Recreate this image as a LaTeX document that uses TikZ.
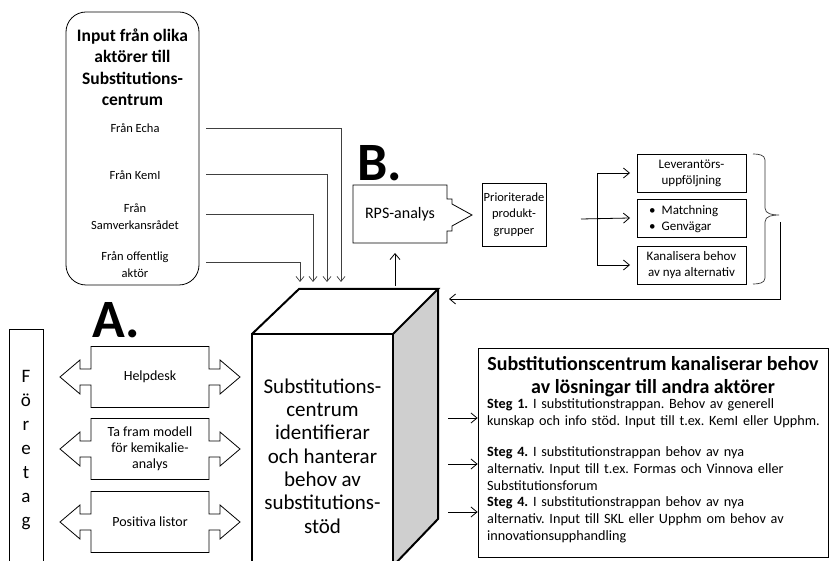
\documentclass[tikz,border=0pt]{standalone}
\usepackage{fontspec}
\setmainfont{Carlito}
\usetikzlibrary{arrows.meta,calc}
\frenchspacing
\begin{document}
\begin{tikzpicture}[x=1pt,y=-1pt,
  thinbox/.style={draw, line width=0.8pt},
  cubeline/.style={draw, line width=2pt, line join=miter},
  small/.style={align=center, font=\fontsize{14}{16}\selectfont, inner sep=0pt},
  frantxt/.style={align=center, font=\fontsize{12.5}{17}\selectfont, inner sep=0pt},
  stegtxt/.style={align=left, text width=360pt, font=\fontsize{14.2}{17}\selectfont, inner sep=0pt, anchor=west},
  boxtxt/.style={align=center, font=\fontsize{13}{16}\selectfont, inner sep=0pt},
  inline/.style={line width=0.7pt, draw=black!75, -{Straight Barb[length=5pt,width=8pt]}},
  conn/.style={line width=0.8pt, -{Straight Barb[length=6pt,width=10pt]}},
  bigletter/.style={font=\fontsize{54}{54}\bfseries\selectfont, inner sep=0pt}
]
\useasboundingbox (0,0) rectangle (831,561);
\clip (0,0) rectangle (831,561);

% ---------- Input box ----------
\node[thinbox, rounded corners=20pt, minimum width=133pt, minimum height=273pt, inner sep=0pt] (inbox) at (132.5,148.5) {};
\node[align=center, font=\fontsize{17.5}{21.5}\bfseries\selectfont, inner sep=0pt] (intitle) at (132.5,67) {Input från olika\\aktörer till\\Substitutions-\\centrum};
\node[frantxt] (echa) at (135,128) {Från Echa};
\node[frantxt] (keml) at (135,175) {Från KemI};
\node[frantxt] (samv) at (135,217) {Från\\Samverkansrådet};
\node[frantxt] (offa) at (135,265) {Från offentlig\\aktör};

\coordinate (s1) at (206,128);
\coordinate (s2) at (206,174);
\coordinate (s3) at (206,214);
\coordinate (s4) at (206,262);
\coordinate (t1) at (341,282);
\coordinate (t2) at (327,282);
\coordinate (t3) at (313,282);
\coordinate (t4) at (300,282);
\draw[inline] (s1) -| (t1);
\draw[inline] (s2) -| (t2);
\draw[inline] (s3) -| (t3);
\draw[inline] (s4) -| (t4);

% ---------- Cube ----------
\coordinate (fa) at (252,334);
\coordinate (fb) at (393,334);
\coordinate (ba) at (299,289);
\coordinate (bb) at (438,289);
\coordinate (sb) at (438,519);
\coordinate (fc) at (393,566);
\coordinate (fd) at (252,570);
\fill[gray!38] (fb) -- (bb) -- (sb) -- (fc) -- cycle;
\draw[cubeline] (fd) -- (fa) -- (fb) -- (fc);
\draw[cubeline] (fa) -- (ba) -- (bb) -- (fb);
\draw[cubeline] (bb) -- (sb) -- (fc);
\node[align=center, font=\fontsize{21}{23.3}\selectfont, inner sep=0pt] (cubetxt) at (322.5,456) {Substitutions-\\centrum\\identifierar\\och hanterar\\behov av\\substitutions-\\stöd};

% ---------- Företag ----------
\draw[thinbox] (9,575) |- (43,329) -- (43,575);
\node[align=center, font=\fontsize{19}{24}\selectfont, inner sep=0pt] (foretag) at (26,450) {F\\ö\\r\\e\\t\\a\\g};

% ---------- A. and B. ----------
\node[bigletter] (Alabel) at (116,320) {A.};
\node[bigletter] (Blabel) at (380,163) {B.};

% ---------- Left double callouts ----------
\foreach \cy/\nm/\txt in {377/help/Helpdesk, 449/model/{Ta fram modell\\för kemikalie-\\analys}, 522/pos/Positiva listor}{
  \begin{scope}[shift={(150,\cy)}]
    \draw[thinbox, line join=miter] (-59,-30.5) -- (59,-30.5) -- (59,-8) -- (70,-8) -- (70,-17) -- (90,0) -- (70,17) -- (70,8) -- (59,8) -- (59,30.5) -- (-59,30.5) -- (-59,8) -- (-70,8) -- (-70,17) -- (-90,0) -- (-70,-17) -- (-70,-8) -- (-59,-8) -- cycle;
    \node[small] (\nm) at (0,0) {\txt};
  \end{scope}
}

% ---------- B section ----------
\draw[thinbox, line join=miter] (353,185) -- (447,185) -- (447,199) -- (452,199) -- (452,204) -- (472,215) -- (452,226) -- (452,231) -- (447,231) -- (447,243) -- (353,243) -- cycle;
\node[align=center, font=\fontsize{16}{18}\selectfont, inner sep=0pt] (rps) at (400,214) {RPS-analys};
\coordinate (upstart) at (395,286);
\coordinate (upend) at (395,253);
\draw[conn] (upstart) -- (upend);

\node[thinbox, minimum width=64pt, minimum height=63pt, inner sep=0pt, align=center, font=\fontsize{12.5}{16.5}\selectfont] (prio) at (514,214.5) {Prioriterade\\produkt-\\grupper};

\node[thinbox, minimum width=109pt, minimum height=38pt, boxtxt] (lev) at (691.5,173) {Leverantörs-\\uppföljning};
\node[thinbox, minimum width=109pt, minimum height=38pt, inner sep=0pt] (mat) at (691.5,218) {};
\node[inner sep=0pt, font=\fontsize{13}{16}\selectfont, anchor=west] (mattxt) at (649,219) {\begin{tabular}{@{}l@{\hspace{6pt}}l@{}}•&Matchning\\•&Genvägar\end{tabular}};
\node[thinbox, minimum width=109pt, minimum height=38pt, boxtxt] (kan) at (691.5,265) {Kanalisera behov\\av nya alternativ};

\coordinate (bstart) at (581,219);
\coordinate (bsplit) at (597,219);
\draw[conn] (bstart) -- (mat.west -| 630,0);
\draw[conn] (bsplit) |- (lev.west -| 630,0);
\draw[conn] (bsplit) |- (kan.west -| 630,0);

% brace
\draw[line width=0.7pt, draw=black!80] (753,154) to[out=0,in=90] (765,160) -- (765,208) to[out=-90,in=180] (779,215) to[out=180,in=90] (765,222) -- (765,278) to[out=-90,in=0] (753,284);
\coordinate (fbstart) at (780,222);
\coordinate (fbend) at (449,299);
\draw[conn] (fbstart) |- (fbend);

% ---------- Right text box ----------
\node[thinbox, minimum width=350pt, minimum height=209pt, inner sep=0pt] (sbox) at (653,452.5) {};
\node[align=center, font=\fontsize{20}{23}\bfseries\selectfont, inner sep=0pt] (stitle) at (653,376.5) {Substitutionscentrum kanaliserar behov\\av lösningar till andra aktörer};
\node[stegtxt] (steg1) at (487,413.5) {\textbf{Steg 1.} I substitutionstrappan. Behov av generell\\kunskap och info stöd. Input till t.ex. KemI eller Upphm.};
\node[stegtxt] (steg4a) at (487,469) {\textbf{Steg 4.} I substitutionstrappan behov av nya\\alternativ. Input till t.ex. Formas och Vinnova eller\\Substitutionsforum};
\node[stegtxt] (steg4b) at (487,520) {\textbf{Steg 4.} I substitutionstrappan behov av nya\\alternativ. Input till SKL eller Upphm om behov av\\innovationsupphandling};

\coordinate (a1) at (448,418);
\coordinate (a2) at (448,464);
\coordinate (a3) at (448,512);
\draw[conn] (a1) -- (a1 -| sbox.west);
\draw[conn] (a2) -- (a2 -| sbox.west);
\draw[conn] (a3) -- (a3 -| sbox.west);
\end{tikzpicture}
\end{document}
